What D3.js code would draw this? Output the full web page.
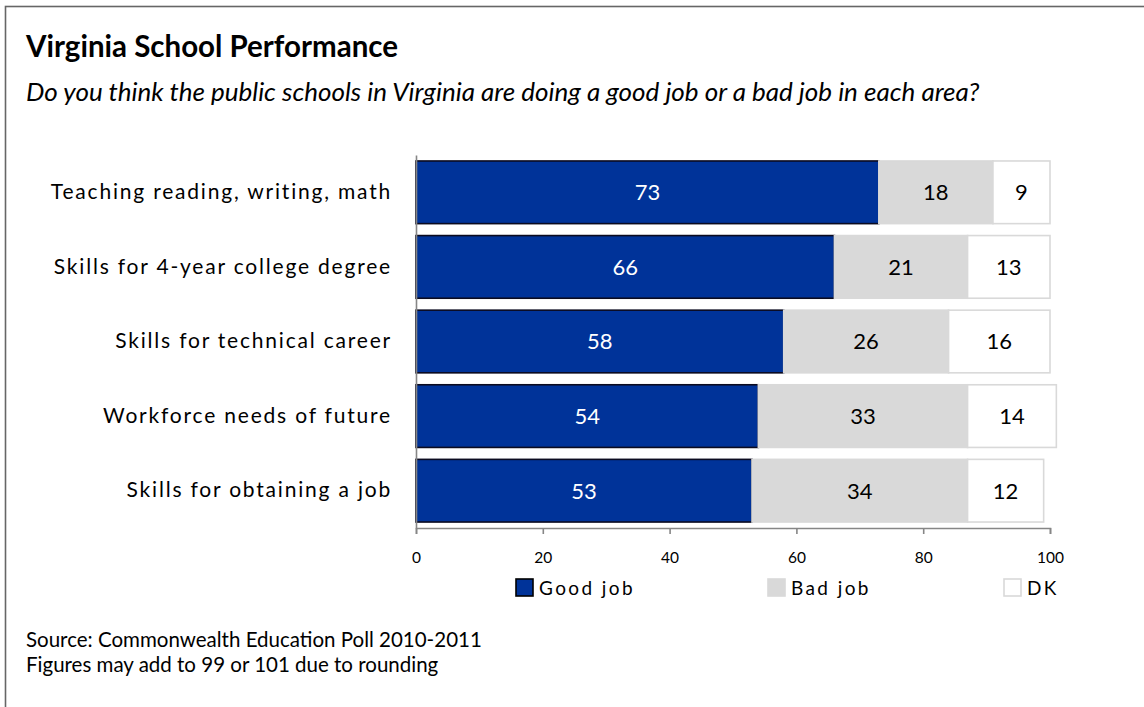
<!DOCTYPE html>
<html>
<head>
<meta charset="utf-8">
<script src="https://cdn.jsdelivr.net/npm/d3@7"></script>
<style>
  html, body { margin: 0; padding: 0; background: #fff; }
  svg { display: block; font-family: Lato, "Open Sans", sans-serif; }
</style>
</head>
<body>
<svg id="chart" width="1144" height="707"></svg>
<script>
// Survey items, top to bottom
const categories = [
  "Teaching reading, writing, math",
  "Skills for 4-year college degree",
  "Skills for technical career",
  "Workforce needs of future",
  "Skills for obtaining a job"
];
// Percent answering each option
const goodJob  = [73, 66, 58, 54, 53];
const badJob   = [18, 21, 26, 33, 34];
const dontKnow = [9, 13, 16, 14, 12];

const seriesKeys  = ["good", "bad", "dk"];
const seriesNames = ["Good job", "Bad job", "DK"];
const xTicks = [0, 20, 40, 60, 80, 100];

const titleText = "Virginia School Performance";
const subtitleText = "Do you think the public schools in Virginia are doing a good job or a bad job in each area?";
const notes = [
  "Source: Commonwealth Education Poll 2010-2011",
  "Figures may add to 99 or 101 due to rounding"
];

const rows = categories.map((c, i) => ({
  category: c, good: goodJob[i], bad: badJob[i], dk: dontKnow[i]
}));

const svg = d3.select("#chart");

// frame around the whole graphic (runs off the right and bottom edges)
svg.append("rect")
  .attr("x", 5.5).attr("y", 6.5)
  .attr("width", 1200).attr("height", 800)
  .attr("fill", "#fff")
  .attr("stroke", "#666").attr("stroke-width", 1.6);

svg.append("text")
  .attr("x", 26).attr("y", 57)
  .attr("font-size", 29.5).attr("font-weight", "bold")
  .attr("fill", "#000")
  .text(titleText);

svg.append("text")
  .attr("x", 26).attr("y", 101)
  .attr("font-size", 26).attr("font-style", "italic")
  .attr("fill", "#000")
  .text(subtitleText);

const x = d3.scaleLinear().domain([0, 100]).range([416, 1050]);
const y = d3.scaleBand().domain(categories).range([155, 528])
  .paddingInner(0.16).paddingOuter(0.08);

const color = { good: "#003399", bad: "#d9d9d9", dk: "#ffffff" };
const stroke = { good: "#0b0b20", bad: "#d9d9d9", dk: "#d9d9d9" };
const labelColor = { good: "#ffffff", bad: "#000000", dk: "#000000" };

const stacked = d3.stack().keys(seriesKeys)(rows);

const layers = svg.append("g").selectAll("g")
  .data(stacked).join("g");

layers.selectAll("rect")
  .data(s => s.map(d => ({ key: s.key, d })))
  .join("rect")
  .attr("x", p => x(p.d[0]))
  .attr("y", p => y(p.d.data.category))
  .attr("width", p => x(p.d[1]) - x(p.d[0]))
  .attr("height", y.bandwidth())
  .attr("fill", p => color[p.key])
  .attr("stroke", p => stroke[p.key])
  .attr("stroke-width", 1.6);

layers.selectAll("text")
  .data(s => s.map(d => ({ key: s.key, d })))
  .join("text")
  .attr("x", p => (x(p.d[0]) + x(p.d[1])) / 2)
  .attr("y", p => y(p.d.data.category) + y.bandwidth() / 2)
  .attr("dy", "0.36em")
  .attr("text-anchor", "middle")
  .attr("font-size", 22)
  .attr("fill", p => labelColor[p.key])
  .text(p => p.d.data[p.key]);

// value axis
const xAxis = d3.axisBottom(x).tickValues(xTicks).tickSize(6).tickPadding(18);
const gx = svg.append("g").attr("transform", `translate(0,${y.range()[1]})`).call(xAxis);
gx.select(".domain").attr("stroke", "#868686").attr("stroke-width", 1.6);
gx.selectAll(".tick line").attr("stroke", "#868686").attr("stroke-width", 1.6);
gx.selectAll(".tick text").attr("font-size", 15.5).attr("fill", "#000")
  .attr("font-family", "Lato, sans-serif");

// category axis
const yAxis = d3.axisLeft(y).tickSize(0).tickPadding(24);
const gy = svg.append("g").attr("transform", `translate(${x(0)},0)`).call(yAxis);
gy.select(".domain").attr("stroke", "#868686").attr("stroke-width", 1.6);
gy.selectAll(".tick text").attr("font-size", 21).attr("fill", "#000")
  .attr("letter-spacing", "1.8px")
  .attr("font-family", "Lato, sans-serif");

// legend
const legendX = [516, 768, 1004];
const legend = svg.append("g").selectAll("g")
  .data(seriesKeys).join("g")
  .attr("transform", (k, i) => `translate(${legendX[i]},579)`);
legend.append("rect")
  .attr("width", 17).attr("height", 17)
  .attr("fill", k => color[k])
  .attr("stroke", k => k === "good" ? "#000" : "#d9d9d9")
  .attr("stroke-width", 1.6);
legend.append("text")
  .attr("x", 23).attr("y", 9).attr("dy", "0.36em")
  .attr("font-size", 19).attr("letter-spacing", "2.4px")
  .attr("fill", "#000")
  .text((k, i) => seriesNames[i]);

svg.append("g").selectAll("text")
  .data(notes).join("text")
  .attr("x", 26).attr("y", (d, i) => 647 + i * 25)
  .attr("font-size", 20.5).attr("fill", "#000")
  .text(d => d);
</script>
</body>
</html>
